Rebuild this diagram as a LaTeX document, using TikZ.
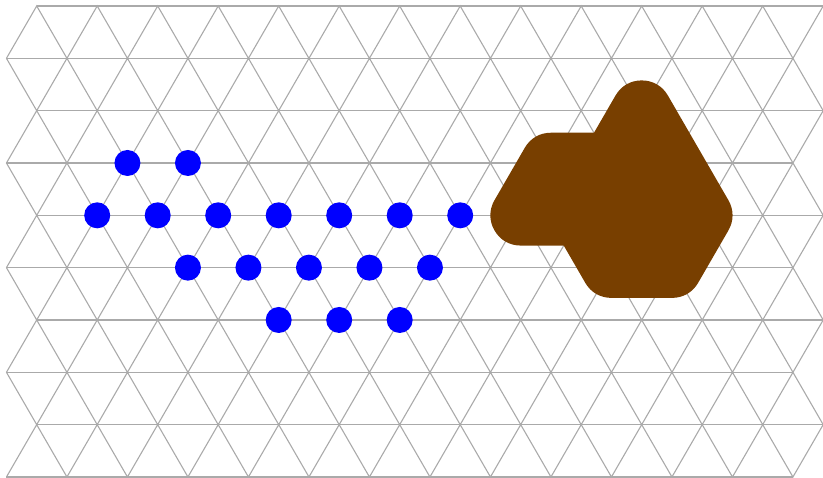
\documentclass[tikz,border=0pt]{standalone}
\definecolor{gridgray}{RGB}{170,170,170}
\definecolor{shapebrown}{RGB}{120,63,0}
\definecolor{dotblue}{RGB}{0,0,255}
\tikzset{
  gridline/.style={draw=gridgray, line width=1.1pt},
  brownshape/.style={fill=shapebrown, draw=shapebrown, line width=60.5pt, line join=round},
  bluedot/.style={circle, fill=dotblue, minimum size=26pt, inner sep=0pt, draw=none}
}
\begin{document}
\begin{tikzpicture}[x=1pt,y=-1pt]
\useasboundingbox (0,0) rectangle (823,478);
% horizontal lines
\foreach \j in {0,...,9} {
  \pgfmathsetmacro\s{36.7-30.25*mod(\j,2)}
  \pgfmathsetmacro\yy{6+52.33*\j}
  \draw[gridline] (\s,\yy) -- ({\s+13*60.5},\yy);
}
% zigzag diagonals between consecutive rows
\foreach \j in {0,...,8} {
  \pgfmathsetmacro\ya{6+52.33*(\j+1-mod(\j,2))}
  \pgfmathsetmacro\yb{6+52.33*(\j+mod(\j,2))}
  \draw[gridline, line join=miter] (6.45,\ya) \foreach \k in {1,...,27} { -- ({6.45+30.25*\k},{\ya+(\yb-\ya)*mod(\k,2)}) };
}
% brown shape
\coordinate (b1) at (641.7,110.66);
\coordinate (b2) at (671.95,162.99);
\coordinate (b3) at (702.2,215.32);
\coordinate (b4) at (671.95,267.65);
\coordinate (b5) at (611.45,267.65);
\coordinate (b6) at (581.2,215.32);
\coordinate (b7) at (520.7,215.32);
\coordinate (b8) at (550.95,162.99);
\coordinate (b9) at (611.45,162.99);
\filldraw[brownshape] (b1) -- (b2) -- (b3) -- (b4) -- (b5) -- (b6) -- (b7) -- (b8) -- (b9) -- cycle;
% blue dots
\node[bluedot] (d1) at (127.45,162.99) {};
\node[bluedot] (d2) at (187.95,162.99) {};
\foreach \x [count=\n] in {97.2,157.7,218.2,278.7,339.2,399.7,460.2}
  \node[bluedot] (r4d\n) at (\x,215.32) {};
\foreach \x [count=\n] in {187.95,248.45,308.95,369.45,429.95}
  \node[bluedot] (r5d\n) at (\x,267.65) {};
\foreach \x [count=\n] in {278.7,339.2,399.7}
  \node[bluedot] (r6d\n) at (\x,319.98) {};
\end{tikzpicture}
\end{document}
